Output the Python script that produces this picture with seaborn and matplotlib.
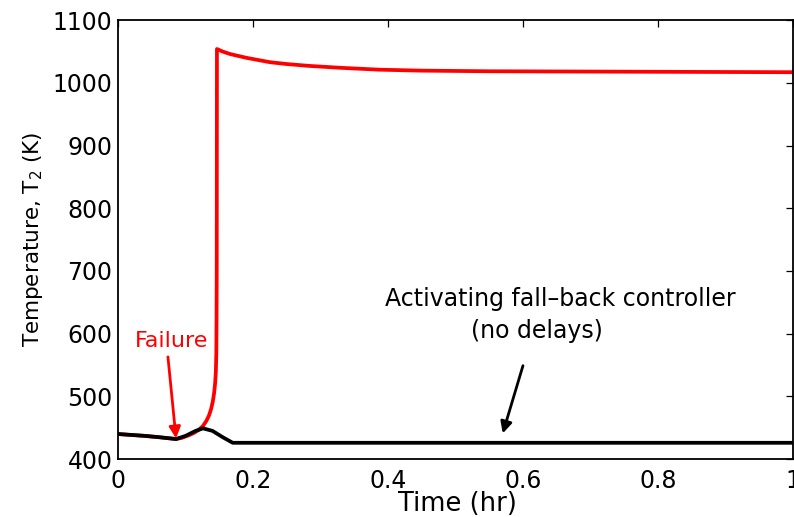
import matplotlib
matplotlib.use("Agg")
import matplotlib.pyplot as plt
import seaborn as sns
import pandas as pd

# Reactor temperature T2 after the failure: open loop vs fall-back controller
t_open = [0.0, 0.02, 0.04, 0.06, 0.086, 0.095, 0.105, 0.113, 0.120, 0.126,
          0.131, 0.135, 0.138, 0.1405, 0.1425, 0.144, 0.145, 0.1457, 0.146,
          0.1463, 0.1466, 0.155, 0.166, 0.19, 0.225, 0.25, 0.284, 0.33,
          0.388, 0.45, 0.55, 0.70, 0.85, 1.0]
T_open = [440, 438.5, 437, 435, 432, 434, 438, 442, 447, 453,
          461, 470, 480, 492, 506, 522, 540, 570, 620,
          700, 1054, 1050, 1046, 1040, 1033, 1030, 1027, 1024,
          1021, 1019.5, 1018.5, 1018, 1017.5, 1017]

t_fallback = [0.0, 0.02, 0.04, 0.06, 0.086, 0.10, 0.115, 0.126, 0.14, 0.155,
              0.17, 0.20, 0.40, 0.60, 0.80, 1.0]
T_fallback = [440, 438.5, 437, 435, 432, 437, 445, 449, 445, 435,
              426, 426, 426, 426, 426, 426]

x_ticks = [0, 0.2, 0.4, 0.6, 0.8, 1]
x_tick_labels = ["0", "0.2", "0.4", "0.6", "0.8", "1"]
y_ticks = [400, 500, 600, 700, 800, 900, 1000, 1100]

sns.set_style("white")
plt.rcParams["font.family"] = ["DejaVu Sans"]
plt.rcParams["mathtext.fontset"] = "dejavusans"
for k in ("text.color", "axes.labelcolor", "xtick.color", "ytick.color"):
    plt.rcParams[k] = "black"

fig = plt.figure(figsize=(7.94, 5.17), dpi=100)
ax = fig.add_axes([0.1486, 0.112, 0.8501, 0.849])

df_open = pd.DataFrame({"t": t_open, "T": T_open})
df_fb = pd.DataFrame({"t": t_fallback, "T": T_fallback})

sns.lineplot(data=df_open, x="t", y="T", ax=ax, color="#ff0000", lw=2.7,
             sort=False, estimator=None)
sns.lineplot(data=df_fb, x="t", y="T", ax=ax, color="black", lw=2.7,
             sort=False, estimator=None)

ax.set_xlim(0, 1)
ax.set_ylim(400, 1100)
ax.set_xticks(x_ticks)
ax.set_xticklabels(x_tick_labels)
ax.set_yticks(y_ticks)
ax.tick_params(direction="in", length=5, width=0.9, labelsize=17,
               top=True, right=True)
ax.tick_params(axis="x", pad=7)
ax.tick_params(axis="y", pad=4)
for s in ax.spines.values():
    s.set_visible(True)
    s.set_linewidth(1.3)
    s.set_color("black")

ax.set_xlabel("Time (hr)", fontsize=18.5)
ax.xaxis.set_label_coords(0.503, -0.072)
ax.set_ylabel("Temperature, T$_2$ (K)", fontsize=15.5)
ax.yaxis.set_label_coords(-0.108, 0.5)

ax.annotate("", xy=(0.086, 433), xytext=(0.074, 563),
            arrowprops=dict(arrowstyle="-|>", color="#ff0000", lw=2,
                            mutation_scale=17, shrinkA=0, shrinkB=0))
ax.text(0.079, 589, "Failure", color="#ff0000", fontsize=16,
        ha="center", va="center")

ax.annotate("", xy=(0.570, 441), xytext=(0.600, 549),
            arrowprops=dict(arrowstyle="-|>", color="black", lw=2,
                            mutation_scale=17, shrinkA=0, shrinkB=0))
ax.text(0.655, 655, "Activating fall\u2013back controller",
        ha="center", va="center", fontsize=17)
ax.text(0.621, 605, "(no delays)", ha="center", va="center", fontsize=17)

fig.savefig("out.png", dpi=100)
